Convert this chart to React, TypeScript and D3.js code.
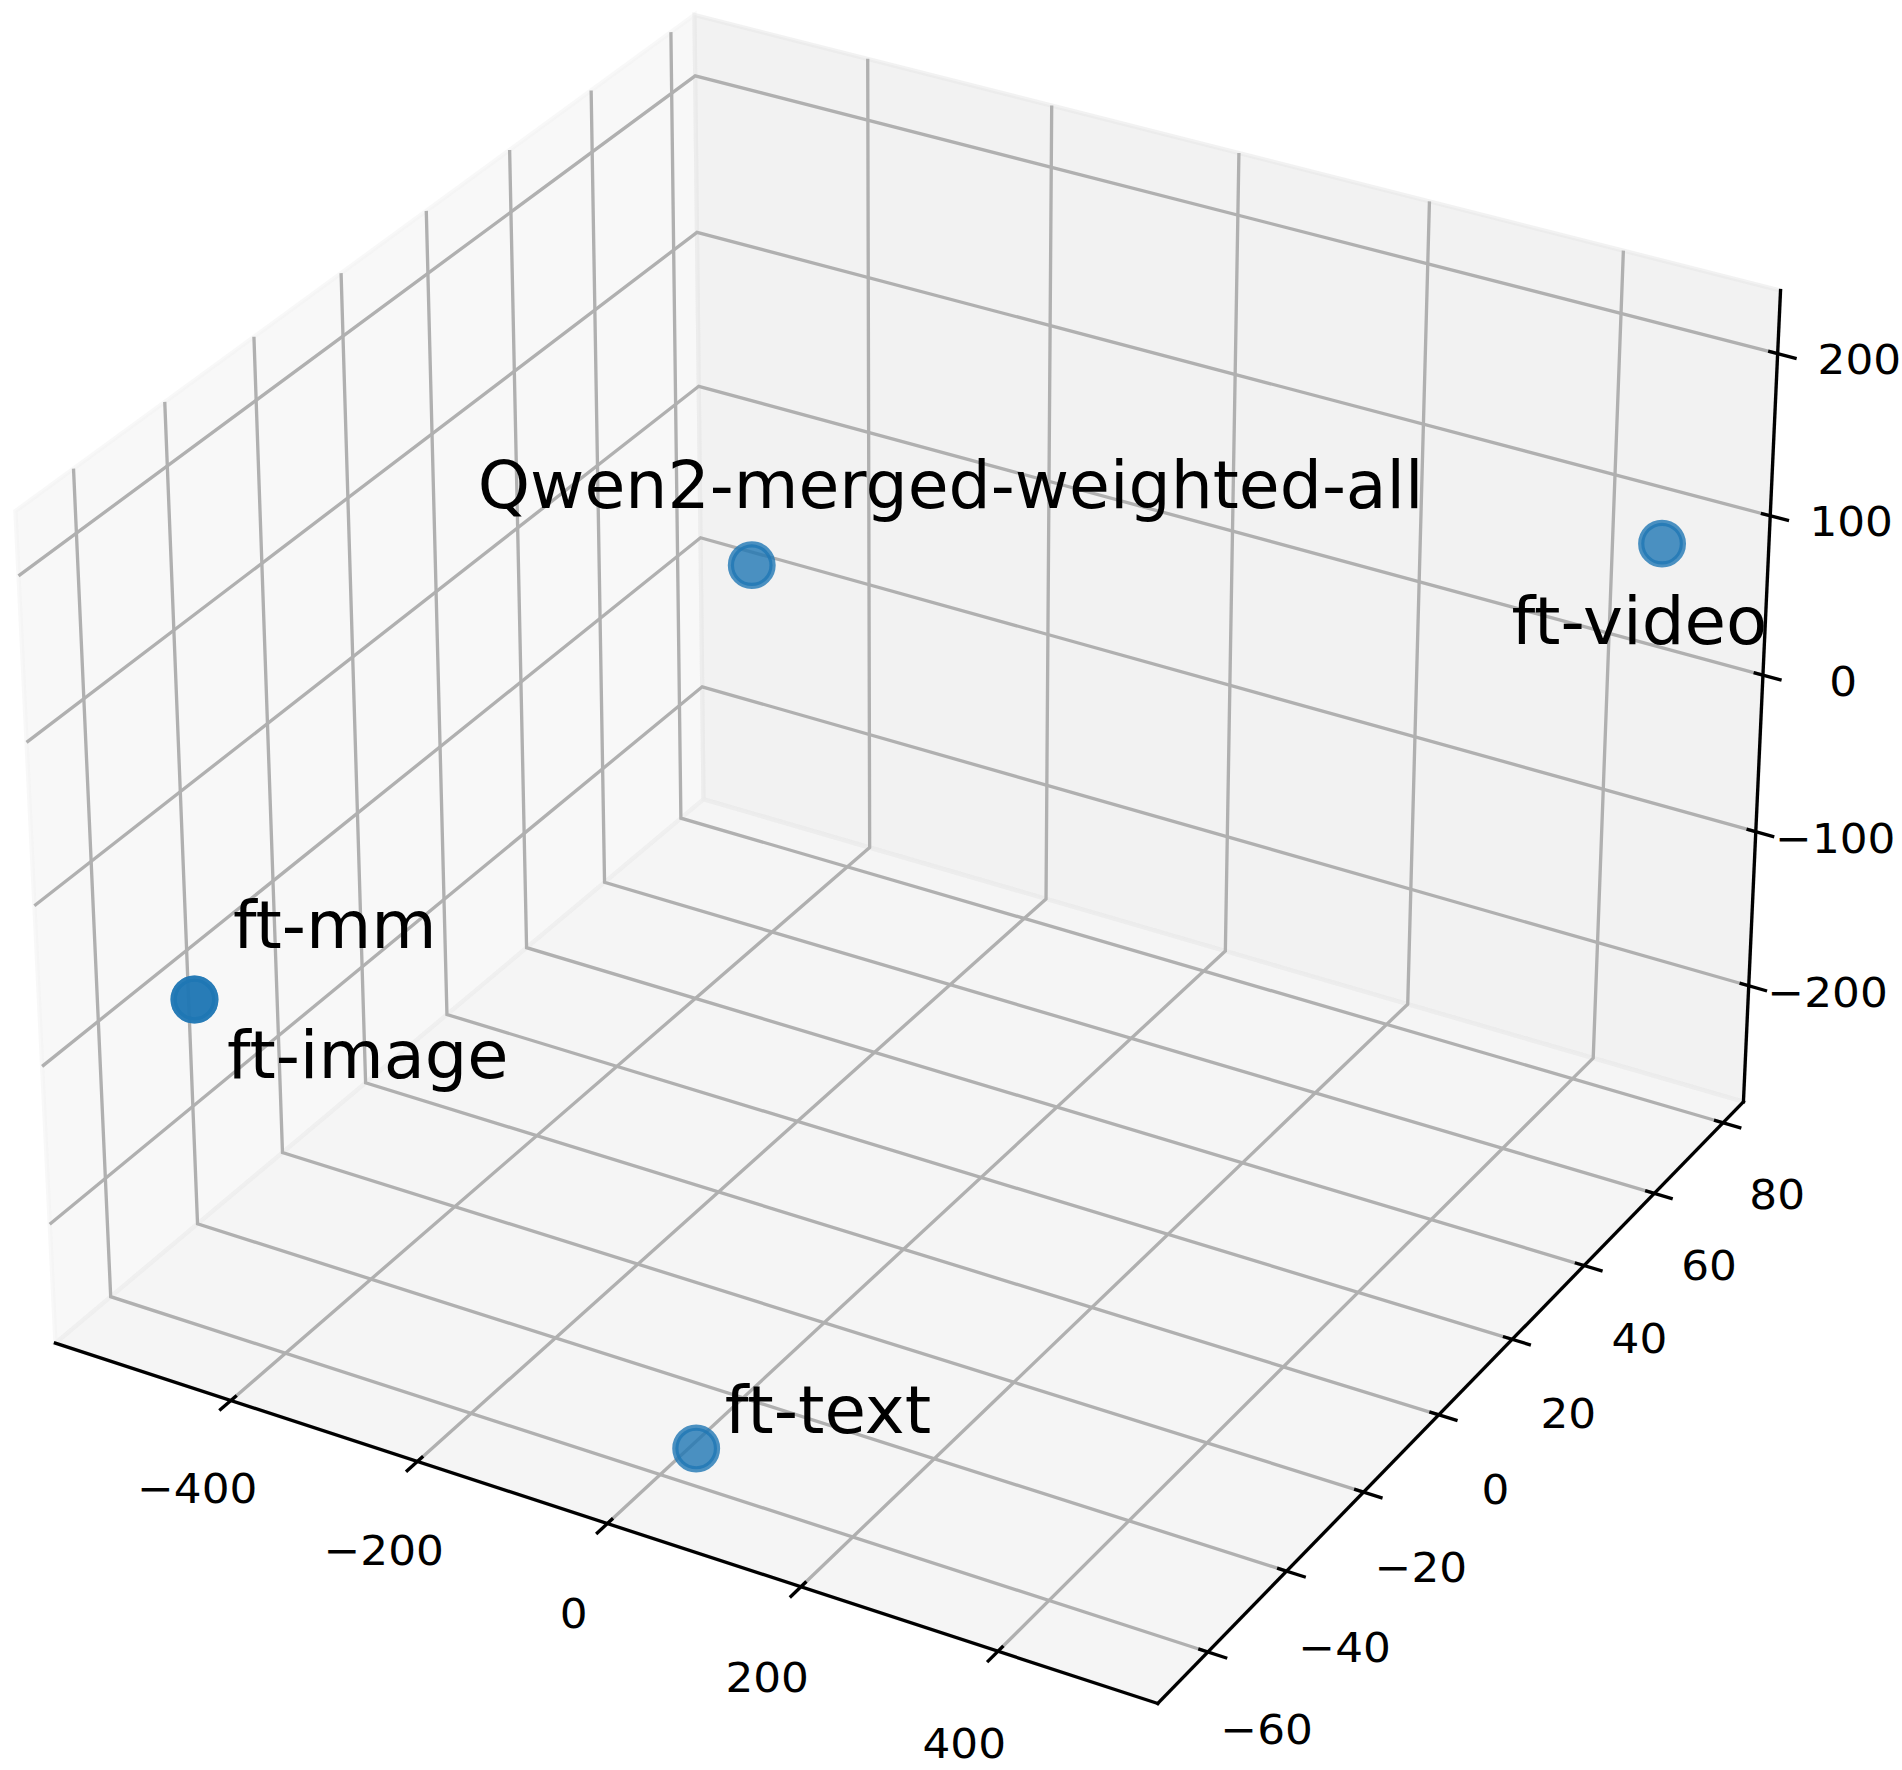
import React from "react";
import * as d3 from "d3";

// ---- data ----
const pointNames = ["Qwen2-merged-weighted-all", "ft-video", "ft-mm", "ft-image", "ft-text"];
const pointX = [-36, 485.4, -522, -522, 47];
const pointY = [-27.9, 76, -52.6, -52.6, -62];
const pointZ = [205.5, 91, -90.5, -90.5, -245.6];
const xTicks = [-400, -200, 0, 200, 400];
const yTicks = [-60, -40, -20, 0, 20, 40, 60, 80];
const zTicks = [-200, -100, 0, 100, 200];

// ---- axis limits ----
const xLim: [number, number] = [-591.5, 559.5];
const yLim: [number, number] = [-72.5, 86];
const zLim: [number, number] = [-276.5, 238.5];

// ---- layout / style ----
const W = 1902;
const H = 1770;
const DIST = 10;
const ELEV = (30 * Math.PI) / 180;
const AZIM = (-60 * Math.PI) / 180;
const NORM = (1.8294640721620434 * 25) / 24 / Math.sqrt(41);
const half = [2 * NORM, 2 * NORM, 1.5 * NORM];
const labelShift: [number, number][] = [
  [-274, -57.6],
  [-150.5, 100.7],
  [38.5, -51],
  [32.5, 79],
  [28.5, -15.3],
];
const labelStretch = [0.997, 1.012, 1.006, 1.005, 1.012];
const TICK_STRETCH = 1.05;
const GRID = "#b0b0b0";
const BLUE = "#1f77b4";
const FONT = "'DejaVu Sans', sans-serif";
const LW = 3.33;

// ---- scales: data -> box coordinates -> picture ----
const sx = d3.scaleLinear().domain(xLim).range([-half[0], half[0]]);
const sy = d3.scaleLinear().domain(yLim).range([-half[1], half[1]]);
const sz = d3.scaleLinear().domain(zLim).range([-half[2], half[2]]);
const viewX = d3.scaleLinear().domain([0, 1]).range([915, 915 + 10608]);
const viewY = d3.scaleLinear().domain([0, 1]).range([818.6, 818.6 - 10620]);

const n = [Math.cos(ELEV) * Math.cos(AZIM), Math.cos(ELEV) * Math.sin(AZIM), Math.sin(ELEV)];
const uLen = Math.hypot(n[1], n[0]);
const u = [-n[1] / uLen, n[0] / uLen, 0];
const v = [n[1] * u[2] - n[2] * u[1], n[2] * u[0] - n[0] * u[2], n[0] * u[1] - n[1] * u[0]];
const dot = (a: number[], b: number[]) => a[0] * b[0] + a[1] * b[1] + a[2] * b[2];

type P3 = [number, number, number];
function project([x, y, z]: P3): [number, number] {
  const c = [sx(x), sy(y), sz(z)];
  const d = DIST - dot(c, n);
  return [viewX(dot(c, u) / d), viewY(dot(c, v) / d)];
}
const path = (pts: P3[], close = false) =>
  (d3.line()(pts.map(project)) as string) + (close ? "Z" : "");

const [x0, x1] = xLim;
const [y0, y1] = yLim;
const [z0, z1] = zLim;
const dx = (x1 - x0) / 12;
const dy = (y1 - y0) / 12;
const dz = (z1 - z0) / 12;
const fmt = (t: number) => (t < 0 ? "\u2212" + Math.abs(t) : String(t));

const panes: { pts: P3[]; color: string }[] = [
  { pts: [[x0, y0, z0], [x0, y1, z0], [x0, y1, z1], [x0, y0, z1]], color: "rgb(242,242,242)" },
  { pts: [[x0, y1, z0], [x1, y1, z0], [x1, y1, z1], [x0, y1, z1]], color: "rgb(230,230,230)" },
  { pts: [[x0, y0, z0], [x1, y0, z0], [x1, y1, z0], [x0, y1, z0]], color: "rgb(236,236,236)" },
];

const gridLines: P3[][] = [
  ...xTicks.map((t): P3[] => [[t, y0, z0], [t, y1, z0], [t, y1, z1]]),
  ...yTicks.map((t): P3[] => [[x1, t, z0], [x0, t, z0], [x0, t, z1]]),
  ...zTicks.map((t): P3[] => [[x0, y0, t], [x0, y1, t], [x1, y1, t]]),
];
const axisLines: P3[][] = [
  [[x0, y0, z0], [x1, y0, z0]],
  [[x1, y0, z0], [x1, y1, z0]],
  [[x1, y1, z0], [x1, y1, z1]],
];
const tickLines: P3[][] = [
  ...xTicks.map((t): P3[] => [[t, y0 + 0.1 * dy, z0], [t, y0 - 0.2 * dy, z0]]),
  ...yTicks.map((t): P3[] => [[x1 - 0.1 * dx, t, z0], [x1 + 0.2 * dx, t, z0]]),
  ...zTicks.map((t): P3[] => [[x1 - 0.1 * dx, y1, t], [x1 + 0.2 * dx, y1, t]]),
];
const tickLabels: { t: number; at: P3 }[] = [
  ...xTicks.map((t) => ({ t, at: [t, y0 - 0.616 * dy, z0 - 0.85 * dz] as P3 })),
  ...yTicks.map((t) => ({ t, at: [x1 + 0.62 * dx, t, z0 - 0.84 * dz] as P3 })),
  ...zTicks.map((t) => ({ t, at: [x1 + 0.72 * dx, y1 + 0.288 * dy, t] as P3 })),
];

export default function App() {
  const dots = pointNames.map((name, i) => {
    const [px, py] = project([pointX[i], pointY[i], pointZ[i]]);
    return { name, px, py, shift: labelShift[i], stretch: labelStretch[i] };
  });
  return (
    <svg
      width={W}
      height={H}
      viewBox={`0 0 ${W} ${H}`}
      style={{ position: "absolute", left: 0, top: 0, display: "block", background: "#fff" }}
      fontFamily={FONT}
    >
      {panes.map((p, i) => (
        <path
          key={i}
          d={path(p.pts, true)}
          fill={p.color}
          fillOpacity={0.5}
          stroke={p.color}
          strokeOpacity={0.5}
          strokeWidth={4.17}
        />
      ))}
      {gridLines.map((g, i) => (
        <path key={i} d={path(g)} fill="none" stroke={GRID} strokeWidth={LW} />
      ))}
      {axisLines.map((g, i) => (
        <path key={i} d={path(g)} fill="none" stroke="#000" strokeWidth={LW} strokeLinecap="square" />
      ))}
      {tickLines.map((g, i) => (
        <path key={i} d={path(g)} fill="none" stroke="#000" strokeWidth={LW} />
      ))}
      {tickLabels.map((l, i) => {
        const [px, py] = project(l.at);
        return (
          <text
            key={i}
            transform={`translate(${px},${py}) scale(${TICK_STRETCH},1)`}
            dy="0.365em"
            textAnchor="middle"
            fontSize={41.67}
            fill="#000"
          >
            {fmt(l.t)}
          </text>
        );
      })}
      {dots.map((d) => (
        <circle
          key={d.name}
          cx={d.px}
          cy={d.py}
          r={20.83}
          fill={BLUE}
          fillOpacity={0.8}
          stroke={BLUE}
          strokeOpacity={0.8}
          strokeWidth={6.25}
        />
      ))}
      {dots.map((d) => (
        <text
          key={d.name}
          transform={`translate(${d.px + d.shift[0]},${d.py + d.shift[1]}) scale(${d.stretch},1)`}
          fontSize={66.67}
          fill="#000"
        >
          {d.name}
        </text>
      ))}
    </svg>
  );
}
